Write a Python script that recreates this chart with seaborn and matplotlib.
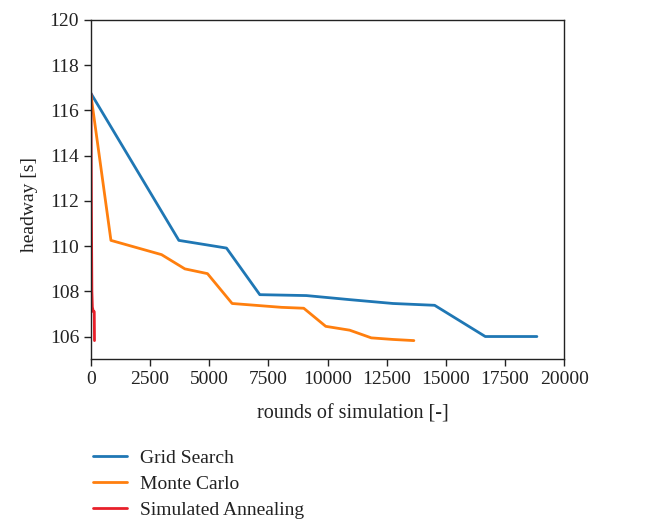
import matplotlib
matplotlib.use("Agg")
import matplotlib.pyplot as plt
import seaborn as sns
import pandas as pd

# Headway found by each optimiser versus number of simulation rounds
grid_rounds = [0, 3716, 5730, 7137, 9108, 10937, 12770, 14527, 16668, 18850]
grid_headway = [116.75, 110.25, 109.91, 107.85, 107.81, 107.63, 107.46, 107.38, 106.0, 106.0]

mc_rounds = [0, 845, 2984, 3970, 4926, 5968, 8052, 8995, 9924, 10937, 11850, 12770, 13650]
mc_headway = [116.67, 110.25, 109.62, 108.99, 108.78, 107.46, 107.29, 107.25, 106.45,
              106.28, 105.94, 105.87, 105.82]

sa_rounds = [0, 20, 40, 60, 100, 140, 150]
sa_headway = [116.75, 111.5, 108.0, 107.3, 107.1, 107.1, 105.82]

methods = ["Grid Search", "Monte Carlo", "Simulated Annealing"]
colors = ["#1f77b4", "#ff7f0e", "#e8202a"]

frames = []
for name, xs, ys in zip(methods, [grid_rounds, mc_rounds, sa_rounds],
                        [grid_headway, mc_headway, sa_headway]):
    frames.append(pd.DataFrame({"rounds": xs, "headway": ys, "method": name}))
df = pd.concat(frames, ignore_index=True)

sns.set_style("ticks")
plt.rcParams["font.family"] = ["Liberation Serif", "DejaVu Serif"]
plt.rcParams["axes.edgecolor"] = "#222222"
plt.rcParams["xtick.color"] = "#222222"
plt.rcParams["ytick.color"] = "#222222"
plt.rcParams["text.color"] = "#222222"
plt.rcParams["axes.labelcolor"] = "#222222"

fig = plt.figure(figsize=(6.59, 5.22), dpi=100)
ax = fig.add_axes([0.138, 0.312, 0.718, 0.650])

sns.lineplot(data=df, x="rounds", y="headway", hue="method", hue_order=methods,
             palette=colors, sort=False, estimator=None, linewidth=2.0, ax=ax,
             legend=True)

ax.set_xlim(0, 20000)
ax.set_ylim(105, 120)
ax.set_xticks(range(0, 20001, 2500))
ax.set_yticks(range(106, 121, 2))
ax.tick_params(axis="both", labelsize=14, direction="out", length=5, width=1,
               labelcolor="#222222")
ax.set_xlabel("rounds of simulation [-]", fontsize=14.5)
ax.set_ylabel("headway [s]", fontsize=14)
ax.xaxis.set_label_coords(0.554, -0.133)
ax.yaxis.set_label_coords(-0.112, 0.457)
for side in ["top", "right", "left", "bottom"]:
    ax.spines[side].set_visible(True)
    ax.spines[side].set_linewidth(1.0)

handles, labels = ax.get_legend_handles_labels()
ax.legend_.remove()
fig.legend(handles, labels, loc="upper left", bbox_to_anchor=(0.13, 0.154),
           frameon=False, fontsize=14, handlelength=1.75, handletextpad=0.65,
           labelspacing=0.42, borderaxespad=0)

fig.savefig("out.png", dpi=100)
